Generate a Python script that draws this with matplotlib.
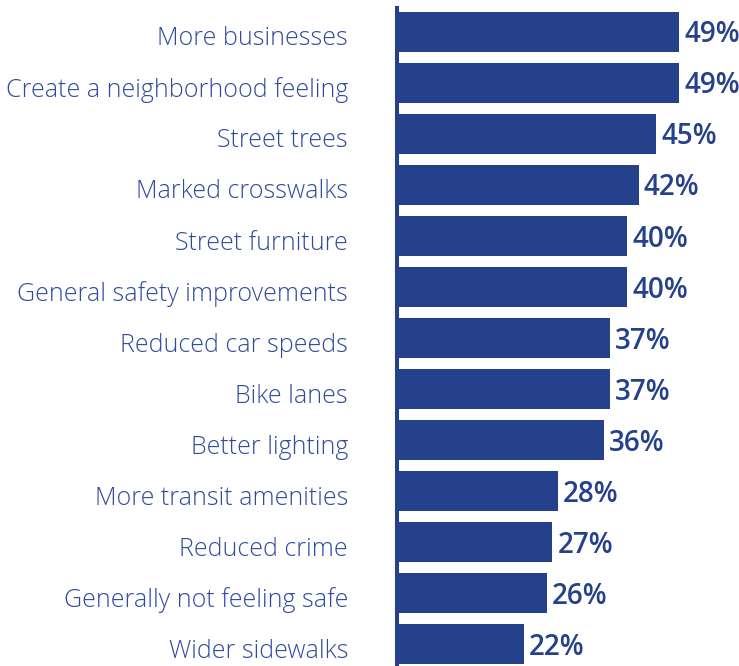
import matplotlib.pyplot as plt
from matplotlib import transforms

# data
categories = [
    "More businesses",
    "Create a neighborhood feeling",
    "Street trees",
    "Marked crosswalks",
    "Street furniture",
    "General safety improvements",
    "Reduced car speeds",
    "Bike lanes",
    "Better lighting",
    "More transit amenities",
    "Reduced crime",
    "Generally not feeling safe",
    "Wider sidewalks",
]
values = [49, 49, 45, 42, 40, 40, 37, 37, 36, 28, 27, 26, 22]

bar_color = "#25418C"
label_color = "#2F4B9E"

fig = plt.figure(figsize=(7.39, 6.66), dpi=100)
ax = fig.add_axes([397 / 739, 0, 1 - 397 / 739, 1 - 8 / 666])

ypos = list(range(len(categories)))
ax.barh(ypos, values, height=0.8, color=bar_color)

ax.set_xlim(0, 59.4)
ax.set_ylim(len(categories) - 0.57, -0.47)

for s in ["top", "right", "bottom"]:
    ax.spines[s].set_visible(False)
ax.spines["left"].set_color(bar_color)
ax.spines["left"].set_linewidth(2.9)
ax.set_xticks([])
ax.set_yticks([])

# category labels sit a little below bar centres in the original
lab_off = transforms.offset_copy(ax.transData, fig=fig, x=-49, y=-7, units="dots")
for y, cat in zip(ypos, categories):
    ax.text(0, y, cat, transform=lab_off, ha="right", va="center",
            fontsize=18, color=label_color, family="Open Sans", fontweight="light")

val_off = transforms.offset_copy(ax.transData, fig=fig, x=5, y=-3, units="dots")
for y, v in zip(ypos, values):
    ax.text(v, y, f"{v}%", transform=val_off, ha="left", va="center",
            fontsize=20, color=bar_color, family="Open Sans", fontweight="semibold",
            clip_on=False)

fig.savefig("out.png", dpi=100)
